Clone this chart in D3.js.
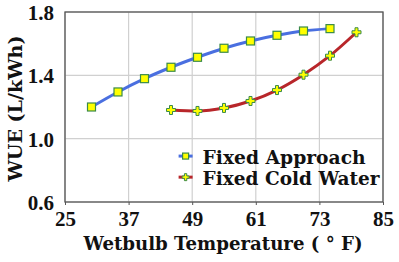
<!DOCTYPE html>
<html>
<head>
<meta charset="utf-8">
<script src="https://cdn.jsdelivr.net/npm/d3@7"></script>
<style>
  body { margin: 0; background: #fff; }
</style>
</head>
<body>
<div id="chart"></div>
<script>
// data
var approachTemps = [30, 35, 40, 45, 50, 55, 60, 65, 70, 75]
var approachWue   = [1.20, 1.295, 1.379, 1.451, 1.514, 1.571, 1.617, 1.653, 1.680, 1.695]
var coldTemps = [45, 50, 55, 60, 65, 70, 75, 80]
var coldWue   = [1.181, 1.175, 1.194, 1.238, 1.307, 1.404, 1.524, 1.672]
var xTicks = [25, 37, 49, 61, 73, 85]
var yTicks = [0.6, 1.0, 1.4, 1.8]
var seriesNames = ["Fixed Approach", "Fixed Cold Water"]

var TICKFONT = "'Liberation Serif', serif"
var TITLEFONT = "'DejaVu Serif', serif"

var W = 399, H = 262
var margin = {top: 12, right: 16, bottom: 60, left: 65}
var width = W - margin.left - margin.right
var height = H - margin.top - margin.bottom

var svg = d3.select("#chart").append("svg")
    .attr("width", W).attr("height", H)
  .append("g")
    .attr("transform", "translate(" + margin.left + "," + margin.top + ")")

var x = d3.scaleLinear().domain([25, 85]).range([0, width])
var y = d3.scaleLinear().domain([0.6, 1.8]).range([height, 0])

// gridlines
svg.selectAll(".vgrid").data(xTicks).enter().append("line")
  .attr("x1", d => x(d)).attr("x2", d => x(d))
  .attr("y1", 0).attr("y2", height)
  .attr("stroke", "#d0d0d0").attr("stroke-width", 1.2)
svg.selectAll(".hgrid").data(yTicks).enter().append("line")
  .attr("x1", 0).attr("x2", width)
  .attr("y1", d => y(d)).attr("y2", d => y(d))
  .attr("stroke", "#d0d0d0").attr("stroke-width", 1.2)

// frame
svg.append("rect").attr("width", width).attr("height", height)
  .attr("fill", "none").attr("stroke", "#555").attr("stroke-width", 1.3)

// axes
var xAxis = svg.append("g").attr("transform", "translate(0," + height + ")")
  .call(d3.axisBottom(x).tickValues(xTicks).tickSize(3).tickPadding(6))
var yAxis = svg.append("g")
  .call(d3.axisLeft(y).tickValues(yTicks).tickFormat(d3.format(".1f")).tickSize(0).tickPadding(11))
svg.selectAll(".domain").remove()
xAxis.selectAll("line").attr("stroke", "#555")
svg.selectAll(".tick text")
  .style("font-family", TICKFONT).style("font-weight", "bold")
  .style("font-size", "21px").attr("fill", "#111")
yAxis.selectAll("text").attr("dy", "0.36em")

// axis titles
svg.append("text").attr("x", width / 2 - 1).attr("y", height + 48)
  .attr("text-anchor", "middle")
  .attr("textLength", 279).attr("lengthAdjust", "spacingAndGlyphs")
  .style("font-family", TITLEFONT).style("font-weight", "bold").style("font-size", "19px")
  .attr("fill", "#111")
  .text("Wetbulb Temperature ( ° F)")
svg.append("text")
  .attr("transform", "translate(" + (-43) + "," + (y(1.19)) + ") rotate(-90)")
  .attr("text-anchor", "middle")
  .attr("textLength", 146).attr("lengthAdjust", "spacingAndGlyphs")
  .style("font-family", TITLEFONT).style("font-weight", "bold").style("font-size", "19px")
  .attr("fill", "#111")
  .text("WUE (L/kWh)")

var line = d3.line().curve(d3.curveMonotoneX)
var approachPts = approachTemps.map((t, i) => [x(t), y(approachWue[i])])
var coldPts = coldTemps.map((t, i) => [x(t), y(coldWue[i])])

svg.append("path").attr("d", line(approachPts))
  .attr("fill", "none").attr("stroke", "#4a6fe0").attr("stroke-width", 3)
svg.append("path").attr("d", line(coldPts))
  .attr("fill", "none").attr("stroke", "#b8262a").attr("stroke-width", 3)

function square(g, px, py, s) {
  g.append("rect").attr("x", px - s / 2).attr("y", py - s / 2)
    .attr("width", s).attr("height", s)
    .attr("fill", "#ffff00").attr("stroke", "#3a8a4a").attr("stroke-width", 1.2)
}
function plus(g, px, py, s) {
  var a = s / 2, b = s / 6
  var p = [[-b,-a],[b,-a],[b,-b],[a,-b],[a,b],[b,b],[b,a],[-b,a],[-b,b],[-a,b],[-a,-b],[-b,-b]]
  g.append("polygon").attr("points", p.map(q => (px + q[0]) + "," + (py + q[1])).join(" "))
    .attr("fill", "#ffff00").attr("stroke", "#3a8a4a").attr("stroke-width", 1)
}

approachPts.forEach(p => square(svg, p[0], p[1], 8))
coldPts.forEach(p => plus(svg, p[0], p[1], 9))

// legend
var legend = svg.append("g").attr("transform", "translate(" + (x(47) + 3) + ",0)")
var ly = [y(0.89), y(0.757)]
var lx0 = -6, lx1 = 8
legend.append("line").attr("x1", lx0).attr("x2", lx1).attr("y1", ly[0]).attr("y2", ly[0])
  .attr("stroke", "#4a6fe0").attr("stroke-width", 3)
square(legend, 1, ly[0], 6)
legend.append("line").attr("x1", lx0).attr("x2", lx1).attr("y1", ly[1]).attr("y2", ly[1])
  .attr("stroke", "#b8262a").attr("stroke-width", 3)
plus(legend, 1, ly[1], 7)
var legendWidths = [163, 177]
seriesNames.forEach((n, i) => {
  legend.append("text").attr("x", 18).attr("y", ly[i] + 7.5)
    .attr("textLength", legendWidths[i]).attr("lengthAdjust", "spacingAndGlyphs")
    .style("font-family", TITLEFONT).style("font-weight", "bold").style("font-size", "19px")
    .attr("fill", "#111")
    .text(n)
})
</script>
</body>
</html>
